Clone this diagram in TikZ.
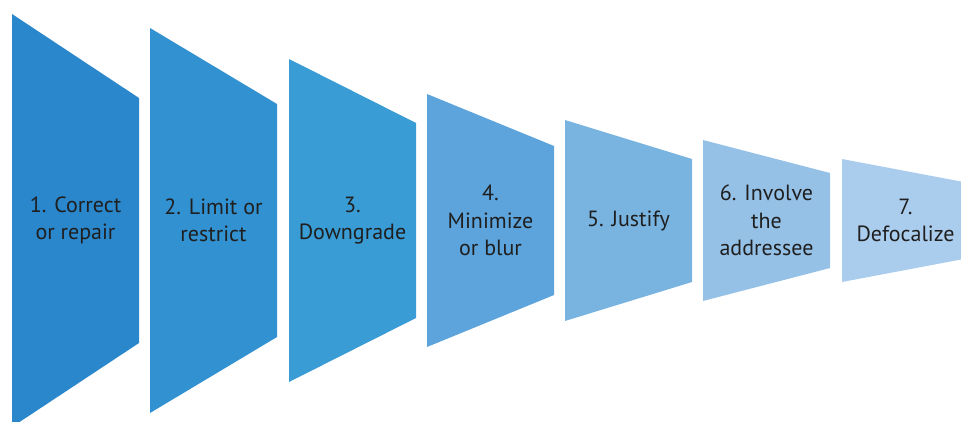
\documentclass[tikz,border=0pt]{standalone}
\usepackage{fontspec}
\setmainfont{PT Sans}
\begin{document}
\begin{tikzpicture}[x=1pt,y=-1pt,
  label/.style={align=center,text=black!88,font=\fontsize{22}{27.5}\selectfont,inner sep=0pt}]
\definecolor{c1}{RGB}{42,135,204}
\definecolor{c2}{RGB}{50,145,208}
\definecolor{c3}{RGB}{58,156,213}
\definecolor{c4}{RGB}{92,164,219}
\definecolor{c5}{RGB}{121,180,225}
\definecolor{c6}{RGB}{149,193,231}
\definecolor{c7}{RGB}{171,205,237}
\useasboundingbox (0,0) rectangle (961,421);
\clip (0,0) rectangle (961,421);
% \stage{name}{left x}{left half height}{right half height}{colour}{label}
\newcommand\stage[6]{%
  \fill[#5] (#2,{220.5-#3}) -- (#2+127,{220.5-#4}) -- (#2+127,{220.5+#4}) -- (#2,{220.5+#3}) -- cycle;
  \node[label] (#1) at (#2+63.5,220.5) {#6};}
\stage{s1}{12}{206.5}{122.5}{c1}{1. Correct\\or repair}
\stage{s2}{150}{192.5}{116.5}{c2}{2. Limit or\\restrict}
\stage{s3}{289}{161.5}{97.5}{c3}{3.\\Downgrade}
\stage{s4}{427}{126.5}{74.5}{c4}{4.\\Minimize\\or blur}
\stage{s5}{565}{100.5}{61.5}{c5}{5. Justify}
\stage{s6}{703}{80.5}{47.5}{c6}{6. Involve\\the\\addressee}
\stage{s7}{842}{61.5}{37.5}{c7}{7.\\Defocalize}
\end{tikzpicture}
\end{document}
